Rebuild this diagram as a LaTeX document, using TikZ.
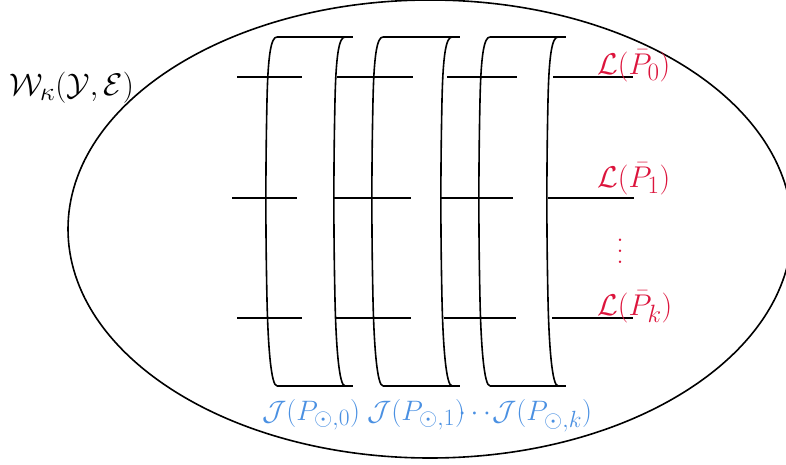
\documentclass[tikz,border=0pt]{standalone}
\usepackage{amsmath}
\definecolor{lred}{RGB}{220,20,60}
\definecolor{jblue}{RGB}{74,144,226}
\newcommand{\bigvdots}{\vbox{\baselineskip=9.2pt\lineskiplimit=0pt\hbox{.}\hbox{.}\hbox{.}}}
\begin{document}
\begin{tikzpicture}[x=1pt,y=-1pt,
  every node/.style={font=\Huge, inner sep=0pt, scale=1.206},
  outline/.style={line width=1.6pt, black},
  tick/.style={line width=1.6pt, black},
  lab/.style={text=lred},
  jlab/.style={text=jblue, scale=0.937}]
\useasboundingbox (0,0) rectangle (786,465);
\begin{scope}
  \clip (0,0) rectangle (786,465);
  \draw[outline] (430,229) ellipse [x radius=362, y radius=229];
\end{scope}
% bracket shapes
\foreach \L/\R/\n in {277/345/1, 383/452/2, 490/558/3}{
  \coordinate (tl\n) at (\L,37);
  \coordinate (bl\n) at (\L,386);
  \coordinate (tr\n) at (\R,37);
  \coordinate (br\n) at (\R,386);
  \draw[outline] (tl\n) -- ([xshift=8pt]tr\n);
  \draw[outline] (bl\n) -- ([xshift=8pt]br\n);
  \foreach \X in {\L,\R}{
    \draw[outline] (\X,37) .. controls (\X-6,37) and (\X-9,55) .. (\X-10,100)
      .. controls (\X-11.5,170) and (\X-11.5,230) .. (\X-10,300)
      .. controls (\X-9,345) and (\X-6,386) .. (\X,386);
  }
}
% ticks
\foreach \y/\a/\b/\c/\d/\e/\f/\g/\h in {
  77/237/302/337/413/447/517/553/633,
  198/232/297/333/411/441/513/548/634,
  318/237/302/335/411/444/516/552/633}{
  \draw[tick] (\a,\y) -- (\b,\y);
  \draw[tick] (\c,\y) -- (\d,\y);
  \draw[tick] (\e,\y) -- (\f,\y);
  \draw[tick] (\g,\y) -- (\h,\y);
}
% labels
\node[anchor=base west, scale=1.04] (W) at (9,95.5) {$\mathcal{W}_\kappa(\mathcal{Y},\mathcal{E})$};
\node[lab, anchor=base west] (L0) at (597,74.5) {$\mathcal{L}(\bar{P}_0)$};
\node[lab, anchor=base west] (L1) at (597,187.5) {$\mathcal{L}(\bar{P}_1)$};
\node[lab] (Ld) at (620,251) {\bigvdots};
\node[lab, anchor=base west] (Lk) at (597,315.5) {$\mathcal{L}(\bar{P}_k)$};
\node[jlab, anchor=base west] (J0) at (262,420.5) {$\mathcal{J}(P_{\odot,0})$};
\node[jlab, anchor=base west] (J1) at (367,420.5) {$\mathcal{J}(P_{\odot,1})$};
\node[jlab, anchor=base] (Jd) at (477,420.5) {$\cdots$};
\node[jlab, anchor=base west] (Jk) at (492,420.5) {$\mathcal{J}(P_{\odot,k})$};
\end{tikzpicture}
\end{document}
